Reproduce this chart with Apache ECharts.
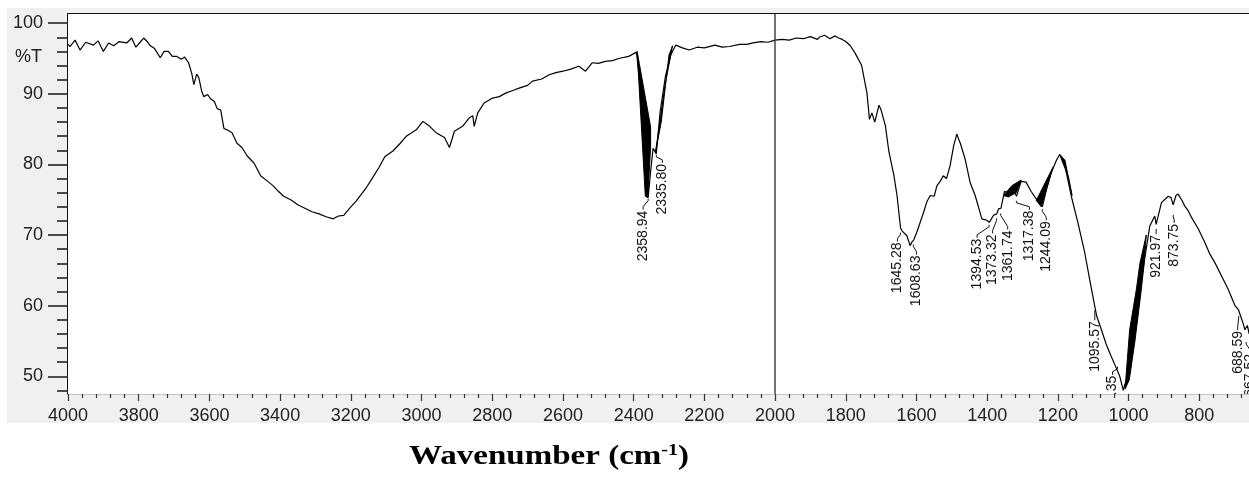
<!DOCTYPE html>
<html>
<head>
<meta charset="utf-8">
<script src="https://cdn.jsdelivr.net/npm/echarts@6/dist/echarts.min.js"></script>
<style>
html, body { margin: 0; padding: 0; background: #fff; }
#main { width: 1249px; height: 479px; }
</style>
</head>
<body>
<div id="main"></div>
<script>
// IR spectrum: wavenumber (cm-1) and %T
var wavenumber = [4000, 3994, 3980, 3966, 3950, 3928, 3915, 3900, 3885, 3871, 3855, 3834, 3820, 3808, 3796, 3786, 3776, 3767, 3755, 3739,
  3728, 3716, 3705, 3692, 3680, 3670, 3659, 3650, 3644, 3636, 3630, 3622, 3616, 3605, 3597, 3586, 3578, 3568, 3559, 3550,
  3536, 3522, 3508, 3493, 3474, 3455, 3435, 3420, 3405, 3390, 3370, 3350, 3330, 3310, 3290, 3270, 3250, 3235, 3220, 3200,
  3185, 3170, 3155, 3140, 3120, 3104, 3081, 3060, 3043, 3015, 2996, 2977, 2959, 2935, 2921, 2907, 2884, 2865, 2855, 2851,
  2841, 2823, 2799, 2780, 2762, 2740, 2724, 2700, 2686, 2660, 2639, 2620, 2600, 2578, 2555, 2536, 2517, 2500, 2480, 2460,
  2442, 2414, 2392, 2375, 2365, 2359, 2352, 2345, 2336, 2325, 2310, 2295, 2281, 2262, 2243, 2220, 2200, 2170, 2150, 2129,
  2100, 2080, 2062, 2040, 2020, 2000, 1980, 1960, 1940, 1920, 1900, 1880, 1875, 1860, 1845, 1830, 1820, 1810, 1800, 1787,
  1774, 1755, 1740, 1733, 1726, 1718, 1706, 1700, 1688, 1678, 1664, 1655, 1645, 1641, 1627, 1618, 1613, 1608, 1599, 1580,
  1570, 1561, 1550, 1542, 1533, 1524, 1515, 1505, 1495, 1486, 1480, 1476, 1462, 1448, 1434, 1415, 1401, 1394, 1382, 1373,
  1368, 1361, 1351, 1340, 1328, 1317, 1304, 1290, 1276, 1257, 1247, 1244, 1232, 1219, 1205, 1195, 1188, 1181, 1162, 1143,
  1124, 1110, 1096, 1090, 1077, 1063, 1049, 1035, 1025, 1015, 1011, 1005, 1000, 991, 982, 968, 949, 940, 926, 922,
  907, 888, 880, 874, 866, 860, 850, 841, 832, 822, 803, 784, 770, 756, 737, 718, 699, 689, 685, 676,
  671, 664, 659];
var transmittance = [97.0, 96.7, 97.6, 96.2, 97.3, 96.9, 97.5, 96.0, 97.2, 96.8, 97.4, 97.2, 97.9, 96.6, 97.3, 97.9, 97.4, 96.8, 96.4, 95.1,
  96.0, 96.0, 95.3, 95.3, 94.9, 95.2, 94.4, 92.9, 91.3, 92.8, 92.3, 90.4, 89.6, 89.9, 89.3, 88.9, 87.9, 87.7, 85.1, 84.9,
  84.5, 83.0, 82.4, 81.2, 80.2, 78.4, 77.6, 77.0, 76.2, 75.5, 75.0, 74.3, 73.8, 73.3, 73.0, 72.6, 72.3, 72.7, 72.8, 74.0,
  74.8, 75.8, 76.8, 78.0, 79.6, 81.1, 81.9, 83.0, 84.0, 84.9, 86.1, 85.4, 84.5, 83.8, 82.4, 84.7, 85.4, 86.6, 86.9, 85.4,
  87.3, 88.7, 89.4, 89.6, 90.1, 90.5, 90.8, 91.2, 91.8, 92.1, 92.7, 93.0, 93.2, 93.5, 93.9, 93.2, 94.4, 94.3, 94.6, 94.7,
  95.0, 95.3, 95.9, 88.0, 80.0, 75.3, 79.0, 82.3, 81.5, 87.5, 92.5, 95.5, 96.9, 96.5, 96.2, 96.6, 96.5, 96.9, 96.6, 96.7,
  97.0, 97.0, 97.2, 97.4, 97.3, 97.6, 97.7, 97.6, 97.9, 97.8, 98.1, 97.7, 98.0, 98.3, 97.8, 98.2, 97.9, 97.7, 97.4, 96.8,
  95.8, 94.0, 90.1, 86.4, 87.3, 86.0, 88.4, 87.7, 85.5, 81.8, 78.5, 75.6, 71.0, 70.6, 69.9, 68.5, 69.0, 69.3, 70.4, 73.2,
  74.8, 75.6, 75.5, 77.0, 77.6, 78.4, 78.0, 79.8, 82.6, 84.3, 83.5, 83.0, 80.7, 77.4, 75.6, 72.3, 72.1, 71.8, 72.8, 73.0,
  73.7, 73.8, 76.2, 76.0, 76.6, 75.5, 77.6, 77.5, 76.2, 74.8, 74.3, 74.0, 76.5, 78.8, 80.5, 81.4, 81.0, 80.0, 75.5, 71.7,
  67.5, 63.7, 60.0, 58.5, 56.6, 54.5, 52.8, 51.2, 50.0, 48.0, 48.8, 49.5, 51.0, 53.5, 56.6, 62.3, 68.4, 71.3, 72.7, 71.5,
  74.6, 75.5, 75.3, 74.3, 75.6, 75.8, 75.0, 74.1, 73.5, 72.5, 70.9, 68.9, 67.3, 66.1, 64.2, 62.3, 60.0, 59.4, 59.2, 57.5,
  56.6, 57.2, 56.0];

// bands where the trace is so noisy it prints as a solid black wedge (wavenumber, %T outline)
var wedge2359 = [[2390, 96.0], [2367, 75.5], [2360, 75.3], [2352, 82.5], [2352, 85.3], [2384, 94.3]];
var wedge2336 = [[2338, 81.8], [2322, 86.0], [2300, 95.5], [2290, 96.8], [2312, 91.0], [2333, 83.5]];
var wedge1340 = [[1354, 75.6], [1340, 75.4], [1318, 76.0], [1304, 77.8], [1330, 77.0]];
var wedge1244 = [[1261, 74.9], [1247, 74.0], [1214, 79.6], [1236, 77.4]];
var wedge1190 = [[1195, 81.4], [1170, 78.2], [1160, 75.6], [1180, 80.6]];
var wedge1000 = [[1010, 48.2], [997, 56.6], [978, 62.3], [968, 66.0], [950, 70.0], [956, 66.0], [964, 62.3], [982, 55.0], [998, 49.5]];
var wedges = [wedge2359, wedge2336, wedge1340, wedge1244, wedge1190, wedge1000];

// picked peaks: position, %T where the leader starts, printed text
var peakWn = [2358.94, 2335.80, 1645.28, 1608.63, 1394.53, 1373.32, 1361.74, 1317.38, 1244.09, 1095.57, 1031.35, 921.97, 873.75, 688.59, 667.52];
var peakT = [75.3, 81.5, 70.5, 68.8, 71.6, 72.5, 73.2, 75.0, 73.8, 59.5, 51.5, 71.0, 73.0, 58.7, 55.0];
var peakText = ['2358.94', '2335.80', '1645.28', '1608.63', '1394.53', '1373.32', '1361.74', '1317.38', '1244.09', '1095.57', '1031.35', '921.97', '873.75', '688.59', '667.52'];

var yTicks = [50, 60, 70, 80, 90, 100];

// where each label sits relative to its peak (px)
var labelShift = [[-5, 12], [6, 9], [-3, 10], [3, 11], [-12, 14], [-4, 16], [7, 17], [13, 10], [4, 12], [0, 11], [-5, 9], [0, 6], [1, 9], [-1, 15], [4, 12]];

var spectrum = wavenumber.map(function (w, i) { return [w, transmittance[i]]; });
var peaks = peakWn.map(function (w, i) { return [w, peakT[i], i]; });
var wedgeItems = wedges.map(function (w, i) { return [w[0][0], w[0][1], i]; });

var myChart = echarts.init(document.getElementById('main'));
var gridCol = '#9a9a9a';
var tickFont = 'Liberation Sans';

myChart.setOption({
  animation: false,
  backgroundColor: '#fff',
  grid: { left: 68, top: 14, right: -21, bottom: 85, outerBoundsMode: 'none', containLabel: false, show: true, backgroundColor: '#fff', borderWidth: 0, z: 1 },
  graphic: [
    { type: 'rect', z: -10, silent: true, shape: { x: 7, y: 8, width: 1242, height: 415 }, style: { fill: '#f0f0f0' } },
    { type: 'text', x: 42, y: 57, z: 10, style: { text: '%T', align: 'right', verticalAlign: 'middle', font: '18px "Liberation Sans"', fill: '#222' } },
    {
      type: 'text', x: 549, y: 457, scaleX: 1.18,
      style: {
        text: 'Wavenumber (cm{sup|-1})', align: 'center', verticalAlign: 'middle',
        font: 'bold 28px "Liberation Serif"', fill: '#000',
        rich: { sup: { fontSize: 17, fontWeight: 'bold', fontFamily: 'Liberation Serif', verticalAlign: 'top', padding: [0, 0, 12, 0] } }
      }
    }
  ],
  xAxis: [{
    type: 'value', inverse: true, min: 600, max: 4000, interval: 200, position: 'bottom',
    axisLine: { show: true, onZero: false, lineStyle: { color: '#c4c4c4', width: 1 } },
    axisTick: { show: true, length: 7, lineStyle: { color: '#333', width: 1.2 } },
    minorTick: { show: true, splitNumber: 5, length: 4, lineStyle: { color: '#333', width: 1.2 } },
    axisLabel: { fontSize: 18, color: '#222', margin: 13, fontFamily: tickFont, formatter: function (v) { return String(v); } },
    splitLine: { show: true, lineStyle: { type: [5, 3], color: gridCol, width: 1 } }
  }, {
    type: 'value', inverse: true, min: 600, max: 4000, position: 'top',
    axisLine: { show: true, onZero: false, lineStyle: { color: '#111', width: 2 } },
    axisTick: { show: false }, axisLabel: { show: false }, splitLine: { show: false }
  }],
  yAxis: {
    type: 'value', min: 47.5, max: 101.3,
    axisLine: { show: true, onZero: false, lineStyle: { color: '#111', width: 2 } },
    axisTick: { show: true, length: 20, customValues: yTicks, lineStyle: { color: '#222', width: 1.6 } },
    minorTick: { show: true, splitNumber: 5, length: 11, lineStyle: { color: '#222', width: 1.6 } },
    axisLabel: { margin: 25, fontSize: 18, color: '#222', fontFamily: tickFont, customValues: yTicks },
    splitLine: { show: true, lineStyle: { type: [5, 3], color: gridCol, width: 1 } }
  },
  series: [{
    type: 'line',
    data: spectrum,
    showSymbol: false,
    clip: true,
    lineStyle: { color: '#000', width: 1.2 },
    z: 3,
    markLine: {
      silent: true, symbol: 'none', label: { show: false },
      lineStyle: { type: 'solid', color: '#444', width: 1.5 },
      data: [{ xAxis: 2000 }]
    }
  }, {
    type: 'custom',
    data: wedgeItems,
    clip: true,
    z: 3,
    renderItem: function (params, api) {
      var pts = wedges[api.value(2)].map(function (d) { return api.coord(d); });
      return { type: 'polygon', shape: { points: pts }, style: { fill: '#000', stroke: '#000', lineWidth: 1 } };
    }
  }, {
    type: 'custom',
    data: peaks,
    clip: true,
    z: 4,
    renderItem: function (params, api) {
      var i = api.value(2);
      var p = api.coord([api.value(0), api.value(1)]);
      var lx = p[0] + labelShift[i][0];
      var ly = p[1] + labelShift[i][1];
      return {
        type: 'group',
        children: [{
          type: 'polyline',
          shape: { points: [[p[0], p[1] + 1], [p[0], p[1] + 3], [lx, ly - 3], [lx, ly]] },
          style: { stroke: '#111', lineWidth: 1, fill: null }
        }, {
          type: 'text', x: lx, y: ly + 1, rotation: Math.PI / 2,
          style: { text: peakText[i], align: 'right', verticalAlign: 'middle', font: '14px "Liberation Sans"', fill: '#111' }
        }]
      };
    }
  }]
});
</script>
</body>
</html>
